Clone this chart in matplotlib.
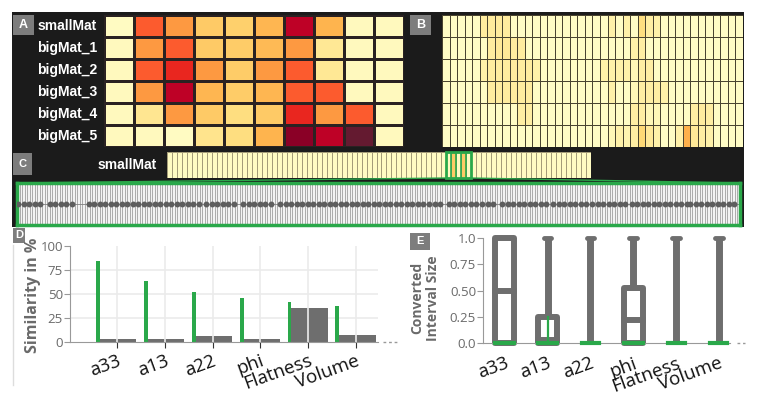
import numpy as np
import matplotlib
matplotlib.use('Agg')
import matplotlib.pyplot as plt
from matplotlib.patches import Rectangle

W, H = 765, 399

# ---------------- data ----------------
mat_rows = ['smallMat', 'bigMat_1', 'bigMat_2', 'bigMat_3', 'bigMat_4', 'bigMat_5']
A_vals = [
    [0.03, 0.60, 0.46, 0.30, 0.28, 0.36, 0.87, 0.37, 0.04, 0.04],
    [0.04, 0.46, 0.60, 0.30, 0.29, 0.35, 0.46, 0.16, 0.04, 0.04],
    [0.04, 0.60, 0.72, 0.46, 0.29, 0.46, 0.60, 0.16, 0.04, 0.04],
    [0.04, 0.46, 0.87, 0.36, 0.29, 0.36, 0.60, 0.60, 0.04, 0.04],
    [0.04, 0.17, 0.46, 0.30, 0.22, 0.30, 0.72, 0.46, 0.60, 0.04],
    [0.04, 0.04, 0.03, 0.18, 0.22, 0.37, 0.98, 0.87, 1.10, 0.04],
]
B_vals = [
    [.02, .02, .02, .02, .02, .13, .14, .14, .13, .02, .02, .02, .02, .02, .02, .02, .02, .02, .02, .02,
     .02, .02, .10, .02, .10, .02, .22, .12, .10, .02, .02, .02, .02, .02, .02, .02, .02, .02, .02, .02],
    [.02, .02, .02, .02, .02, .02, .13, .15, .15, .13, .13, .02, .02, .02, .02, .02, .02, .02, .02, .02,
     .02, .02, .02, .02, .02, .10, .12, .02, .02, .02, .02, .02, .02, .02, .02, .02, .02, .02, .02, .02],
    [.02, .02, .02, .02, .02, .10, .13, .13, .13, .13, .13, .13, .10, .02, .02, .02, .02, .02, .02, .02,
     .02, .10, .10, .10, .10, .06, .12, .12, .02, .02, .02, .02, .02, .02, .02, .02, .02, .02, .02, .02],
    [.02, .02, .02, .02, .02, .02, .13, .13, .13, .13, .13, .13, .02, .02, .02, .02, .02, .02, .02, .02,
     .02, .02, .10, .02, .02, .06, .12, .12, .12, .10, .02, .02, .02, .02, .02, .02, .02, .02, .02, .02],
    [.02, .02, .02, .02, .02, .02, .02, .02, .02, .02, .12, .12, .02, .02, .02, .02, .02, .02, .02, .02,
     .02, .02, .02, .02, .02, .12, .12, .06, .06, .02, .02, .02, .02, .12, .13, .12, .02, .02, .02, .02],
    [.02, .02, .02, .02, .02, .02, .02, .02, .02, .02, .02, .02, .02, .02, .02, .02, .02, .02, .02, .02,
     .02, .02, .06, .10, .08, .12, .25, .15, .10, .02, .02, .10, .38, .15, .12, .10, .02, .02, .02, .02],
]
strip_vals = [
    .03, .03, .03, .03, .03, .03, .03, .03, .03, .03,
    .03, .03, .03, .03, .03, .03, .03, .03, .03, .03,
    .03, .03, .03, .03, .03, .03, .03, .03, .03, .03,
    .03, .03, .03, .03, .03, .03, .03, .03, .03, .03,
    .03, .03, .03, .03, .03, .03, .03, .03, .03, .03,
    .03, .03, .03, .03, .03, .03, .03, .30, .03, .30,
    .03, .03, .03, .03, .03, .03, .03, .03, .03, .03,
    .03, .03, .03, .03, .03, .03, .03, .03, .03, .03,
    .03, .03, .03, .03, .03,
]
highlight_cells = [56, 57, 58, 59, 60]
n_seq_cells = 290
dot_ranges = [(0.002, 0.039), (0.045, 0.076), (0.099, 0.126), (0.130, 0.259),
              (0.262, 0.306), (0.313, 0.357), (0.364, 0.475), (0.478, 0.570),
              (0.578, 0.590), (0.597, 0.644), (0.651, 0.661), (0.671, 0.732),
              (0.742, 0.796), (0.803, 0.844), (0.850, 0.928), (0.931, 0.998)]

features = ['a33', 'a13', 'a22', 'phi', 'Flatness', 'Volume']
sim_small = [84, 64, 52, 46, 42, 38]
sim_big = [3, 3, 6, 3, 35, 7]

box_q1 = [0, 0, 0, 0, 0, 0]
box_q3 = [1.0, 0.25, 0, 0.52, 0, 0]
box_med = [0.5, 0.03, 0, 0.22, 0, 0]
whisk_hi = [1, 1, 1, 1, 1, 1]
query_lo = [0, 0, 0, 0, 0, 0]
query_hi = [0, 0.25, 0, 0, 0, 0]

# ---------------- style ----------------
plt.rcParams['font.family'] = ['Open Sans', 'DejaVu Sans']
GREEN = '#2aa84a'
GREY = '#6e6e6e'
TXT_GREY = '#6a6a6a'
ROT = 20
XFS = 13.5
cmap = plt.get_cmap('YlOrRd').copy()
cmap.set_over('#641a30')

fig = plt.figure(figsize=(W / 100, H / 100), dpi=100)


def px_axes(x0, y0, x1, y1, z=1):
    return fig.add_axes([x0 / W, 1 - y1 / H, (x1 - x0) / W, (y1 - y0) / H], zorder=z)


bg = px_axes(0, 0, W, H, z=0)
bg.set_xlim(0, W)
bg.set_ylim(H, 0)
bg.axis('off')
bg.add_patch(Rectangle((12, 12), 732, 215, color='#1b1b1b', lw=0))

# ---------- panel A ----------
axA = px_axes(104, 15, 404, 147)
axA.pcolormesh(np.array(A_vals), cmap=cmap, vmin=0, vmax=1, edgecolors='#2a2222', linewidth=0.8)
axA.set_xlim(0, 10)
axA.set_ylim(6, 0)
axA.axis('off')
for r, name in enumerate(mat_rows):
    axA.text(-0.23, r + 0.5, name, color='white', fontsize=10, fontweight='bold',
             family='Liberation Sans', ha='right', va='center', clip_on=False)

# ---------- panel B ----------
axB = px_axes(442, 15, 743, 147)
axB.pcolormesh(np.array(B_vals), cmap=cmap, vmin=0, vmax=1, edgecolors='#4a4430', linewidth=0.6)
axB.set_xlim(0, 40)
axB.set_ylim(6, 0)
axB.axis('off')

# ---------- panel C ----------
axC = px_axes(167, 152, 591, 178)
axC.pcolormesh(np.array([strip_vals]), cmap=cmap, vmin=0, vmax=1, edgecolors='#a49c78', linewidth=0.7)
axC.set_xlim(0, len(strip_vals))
axC.set_ylim(1, 0)
axC.axis('off')
h0, h1 = highlight_cells[0], highlight_cells[-1] + 1
axC.vlines(highlight_cells[1:], 0, 1, color=GREEN, lw=1.2)
axC.add_patch(Rectangle((h0, 0), h1 - h0, 1, fill=False, ec=GREEN, lw=2, clip_on=False))

axC2 = px_axes(17, 183, 740, 225)
axC2.set_facecolor('#f4f4f4')
axC2.set_xlim(0, 1)
axC2.set_ylim(0, 1)
axC2.vlines(np.linspace(0, 1, n_seq_cells), 0, 1, color='#a0a0a0', lw=0.6)
axC2.axhline(0.5, color='#808080', lw=0.6)
for a, b in dot_ranges:
    xs = np.arange(a, b + 1e-9, 5.5 / 723)
    axC2.scatter(xs, np.full(len(xs), 0.5), s=18, color='#5d5d5d', marker='o', lw=0, zorder=3)
axC2.set_xticks([])
axC2.set_yticks([])
for s in axC2.spines.values():
    s.set_color(GREEN)
    s.set_linewidth(2.5)

# ---------- panel D ----------
axD = px_axes(70, 246, 378, 342)
x = np.arange(len(features))
axD.set_xlim(-0.98, 5.46)
axD.set_ylim(0, 100)
for yv in [25, 50, 75]:
    axD.axhline(yv, color='#ebebeb', lw=1.2, zorder=0)
for xv in x:
    axD.axvline(xv, color='#ebebeb', lw=1.2, zorder=3)
axD.bar(x - 0.39, sim_small, width=0.08, color=GREEN, zorder=2)
axD.bar(x + 0.03, sim_big, width=0.76, color=GREY, zorder=2)
axD.set_yticks([0, 25, 50, 75, 100])
axD.set_yticklabels(['0', '25', '50', '75', '100'], fontsize=9.5, color=TXT_GREY)
axD.set_xticks(x)
axD.set_xticklabels(features, rotation=ROT, ha='right', rotation_mode='anchor', fontsize=XFS, color='#111111')
axD.tick_params(axis='y', length=4, color='#999999', pad=1)
axD.tick_params(axis='x', length=4, color='#333333', pad=3)
for s in ['top', 'right']:
    axD.spines[s].set_visible(False)
for s in ['left', 'bottom']:
    axD.spines[s].set_color('#999999')
axD.plot([1.015, 1.065], [0, 0], transform=axD.transAxes, color='#999999', lw=1, ls=(0, (2, 2)), clip_on=False)

# ---------- panel E ----------
axE = px_axes(483, 238, 730, 343)
axE.set_xlim(-0.51, 5.26)
axE.set_ylim(0, 1)
hw = 0.22
for i in range(len(features)):
    if box_q3[i] > box_q1[i]:
        axE.add_patch(Rectangle((i - hw, box_q1[i]), 2 * hw, box_q3[i] - box_q1[i], fill=False,
                               ec=GREY, lw=4.3, joinstyle='round', clip_on=False, zorder=2))
        axE.plot([i - hw, i + hw], [box_med[i], box_med[i]], color=GREY, lw=4.3, clip_on=False, zorder=2)
    if whisk_hi[i] > box_q3[i]:
        axE.plot([i, i], [box_q3[i], whisk_hi[i]], color=GREY, lw=5, solid_capstyle='butt', clip_on=False, zorder=2)
        axE.plot([i - 0.09, i + 0.09], [whisk_hi[i], whisk_hi[i]], color=GREY, lw=3.5,
                 solid_capstyle='round', clip_on=False, zorder=2)
    gw = hw if box_q3[i] > box_q1[i] else 0.2
    axE.plot([i - gw, i + gw], [query_lo[i], query_lo[i]], color=GREEN, lw=3, clip_on=False, zorder=4)
    if query_hi[i] > query_lo[i]:
        axE.plot([i, i], [query_lo[i], query_hi[i]], color=GREEN, lw=1.6, clip_on=False, zorder=4)
axE.set_yticks([0, 0.25, 0.5, 0.75, 1.0])
axE.set_yticklabels(['0.0', '0.25', '0.50', '0.75', '1.0'], fontsize=9.5, color=TXT_GREY)
axE.set_xticks(np.arange(len(features)))
axE.set_xticklabels(features, rotation=ROT, ha='right', rotation_mode='anchor', fontsize=XFS, color='#111111')
axE.tick_params(axis='y', length=4, color='#999999', pad=1)
axE.tick_params(axis='x', length=0, pad=8)
for s in ['top', 'right']:
    axE.spines[s].set_visible(False)
for s in ['left', 'bottom']:
    axE.spines[s].set_color('#999999')
axE.plot([1.03, 1.06], [0, 0], transform=axE.transAxes, color='#999999', lw=1, ls=(0, (2, 2)), clip_on=False)

# ---------- overlay: labels, zoom lines ----------
ov = px_axes(0, 0, W, H, z=10)
ov.set_xlim(0, W)
ov.set_ylim(H, 0)
ov.axis('off')
ov.plot([447, 17], [178, 183], color=GREEN, lw=1)
ov.plot([470, 740], [178, 183], color=GREEN, lw=1)
for lab, (bx, by, bw, bh) in zip('ABCDE', [(13, 15, 21, 20), (410, 15, 21, 20), (13, 153, 19, 22),
                                          (13, 228, 12, 15), (410, 233, 20, 17)]):
    ov.add_patch(Rectangle((bx, by), bw, bh, color='#7d7d7d', lw=0))
    ov.text(bx + bw / 2, by + bh / 2, lab, color='white', fontsize=9 if lab in 'AB' else 8,
            fontweight='bold', ha='center', va='center', family='Liberation Sans')
ov.text(157, 165, 'smallMat', color='white', fontsize=10, fontweight='bold', ha='right', va='center',
        family='Liberation Sans')
ov.text(33, 295, 'Similarity in %', color=TXT_GREY, fontsize=11.5, fontweight='bold', rotation=90,
        ha='center', va='center')
ov.text(425, 298, 'Converted\nInterval Size', color=TXT_GREY, fontsize=10, fontweight='bold', rotation=90,
        ha='center', va='center', linespacing=1.15)
ov.plot([13, 13], [245, 385], color='#dddddd', lw=1)

fig.savefig('out.png', dpi=100)
